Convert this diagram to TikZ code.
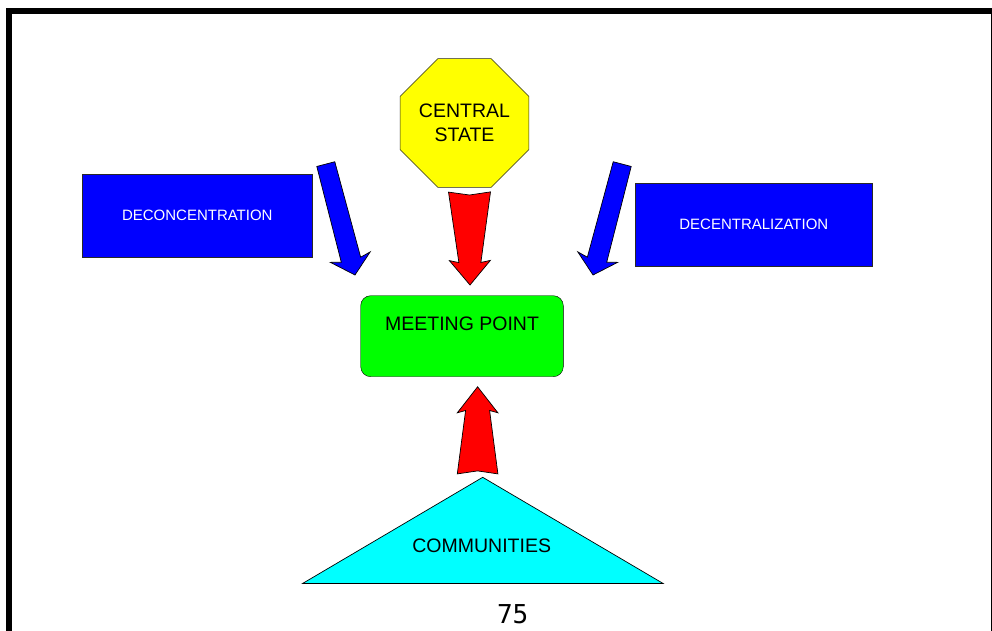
\documentclass[tikz,border=0pt]{standalone}
\usepackage{fontspec}
\setmainfont{Liberation Sans}
\newfontfamily\pagenumfont{DejaVu Sans Mono}
\usetikzlibrary{shapes.geometric,calc}

\definecolor{ppred}{RGB}{255,0,0}
\definecolor{ppblue}{RGB}{0,0,255}
\definecolor{ppgreen}{RGB}{0,255,0}
\definecolor{ppyellow}{RGB}{255,255,0}
\definecolor{ppcyan}{RGB}{0,255,255}
\definecolor{ppline}{RGB}{40,40,40}

% tail, tip, fill, tail half, neck half, head half, neck dist, wing dist, notch
\newcommand{\blockarrow}[9]{%
  \coordinate (#1-neck) at ($(#2)!#7pt!(#1)$);
  \coordinate (#1-wing) at ($(#2)!#8pt!(#1)$);
  \filldraw[fill=#3, draw=black, line width=0.7pt, line join=miter]
    ($(#1)!#4pt!90:(#2)$) -- ($(#1)!#9pt!(#2)$) -- ($(#1)!#4pt!-90:(#2)$)
    -- ($(#1-neck)!#5pt!-90:(#2)$) -- ($(#1-wing)!#6pt!-90:(#2)$) -- (#2)
    -- ($(#1-wing)!#6pt!90:(#2)$) -- ($(#1-neck)!#5pt!90:(#2)$) -- cycle;
}

\begin{document}
\begin{tikzpicture}[x=1pt, y=-1pt,
    bluebox/.style={rectangle, draw=ppline, fill=ppblue, text=white, minimum height=82.4pt, font=\fontsize{15}{18}\selectfont},
    octa/.style={regular polygon, regular polygon sides=8, draw=ppline, fill=ppyellow, minimum size=128.8pt, inner sep=0pt, align=center, font=\fontsize{19.5}{24}\selectfont},
    meetbox/.style={rectangle, rounded corners=10pt, draw=black, fill=ppgreen, minimum width=202.6pt, inner ysep=0pt, text height=34.3pt, text depth=46.7pt, font=\fontsize{19.5}{24}\selectfont},
    lbl/.style={font=\fontsize{19.5}{24}\selectfont}
  ]
  \useasboundingbox (0,0) rectangle (992,631);
  \draw[line width=6pt] (9,631) -- (9,11) -- (993.5,11) -- (993.5,631);

  \node[octa] (cstate) at (464.5,123) {CENTRAL\\STATE};
  \node[bluebox, minimum width=230.7pt] (deconc) at (197.3,215.5) {DECONCENTRATION};
  \node[bluebox, minimum width=237.7pt] (decent) at (753.8,224.5) {DECENTRALIZATION};
  \node[meetbox] (meet) at (462,336.2) {MEETING POINT};
  \filldraw[fill=ppcyan, draw=black, line width=0.7pt] (302.7,583.4) -- (482.7,477.3) -- (663,583.4) -- cycle;
  \node[lbl] (comm) at (481.7,546) {COMMUNITIES};
  \node[font=\pagenumfont\fontsize{26}{30}\selectfont] (pnum) at (512.7,613.8) {75};

  \coordinate (cs-tail) at (469.5,192);
  \coordinate (cs-tip) at (470,285);
  \coordinate (cm-tail) at (477.6,473.9);
  \coordinate (cm-tip) at (477.6,386.8);
  \coordinate (dc-tail) at (325.8,164.1);
  \coordinate (dc-tip) at (355,275);
  \coordinate (dz-tail) at (622.2,164.1);
  \coordinate (dz-tip) at (593,275);
  \blockarrow{cs-tail}{cs-tip}{ppred}{21}{11}{20.5}{22.5}{24.5}{3}
  \blockarrow{cm-tail}{cm-tip}{ppred}{20.3}{12}{20.3}{23.7}{26}{3}
  \blockarrow{dc-tail}{dc-tip}{ppblue}{9.3}{10}{20.6}{15.8}{18.5}{0}
  \blockarrow{dz-tail}{dz-tip}{ppblue}{9.3}{10}{20.6}{15.8}{18.5}{0}
\end{tikzpicture}
\end{document}
